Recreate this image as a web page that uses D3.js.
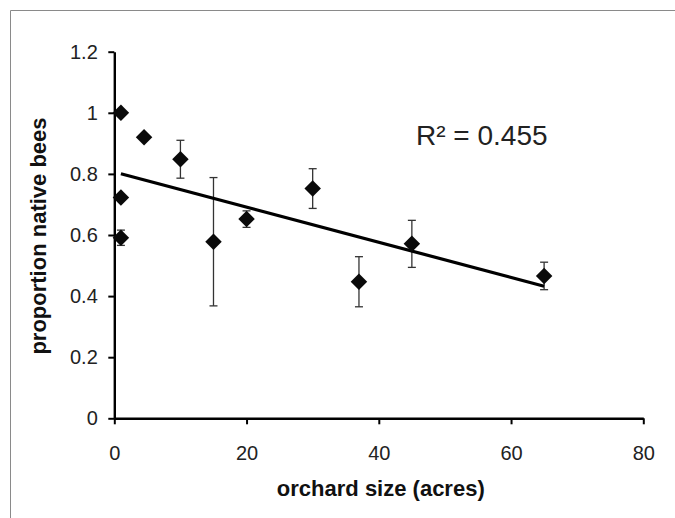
<!DOCTYPE html>
<html lang="en">
<head>
    <meta charset="UTF-8">
    <title>orchard size vs native bees</title>
    <script src="https://cdn.jsdelivr.net/npm/d3@7/dist/d3.min.js"></script>
    <style>
        body {
            margin: 0;
            background-color: #fff;
        }
        text {
            font-family: "Liberation Sans", Arial, sans-serif;
        }
    </style>
</head>
<body>
<div id="svgContainer"></div>

<script>
const width = 675;
const height = 518;
const margin = { top: 51.7, right: 31.7, bottom: 99.7, left: 114.3 };

// data
const orchardSize = [1, 4.5, 10, 1, 1, 15, 20, 30, 37, 45, 65];
const nativeProp = [1.0, 0.92, 0.848, 0.723, 0.591, 0.578, 0.652, 0.752, 0.447, 0.571, 0.466];
const errBar = [0, 0, 0.062, 0, 0.025, 0.21, 0.027, 0.065, 0.082, 0.077, 0.045];
const xTicks = [0, 20, 40, 60, 80];
const yTicks = [0, 0.2, 0.4, 0.6, 0.8, 1, 1.2];
const r2Label = 'R² = 0.455';

const data = orchardSize.map((x, i) => ({ x: x, y: nativeProp[i], e: errBar[i] }));

const svg = d3
    .select('#svgContainer')
    .append('svg')
    .attr('width', width)
    .attr('height', height);

// frame (only top and left edges show in the picture)
svg.append('path')
    .attr('d', `M10.5,${height}V10.5H${width}`)
    .attr('fill', 'none')
    .attr('stroke', '#8a8a8a')
    .attr('stroke-width', 1);

// scales
const x = d3.scaleLinear()
    .domain([0, 80])
    .range([margin.left, width - margin.right]);

const y = d3.scaleLinear()
    .domain([0, 1.2])
    .range([height - margin.bottom, margin.top]);

// axes
const xAxis = g => g
    .attr('transform', `translate(0,${height - margin.bottom})`)
    .call(d3.axisBottom(x).tickValues(xTicks).tickSize(6).tickPadding(22).tickSizeOuter(0).tickFormat(d3.format('d')))
    .call(g => g.select('.domain').attr('stroke-width', 2.4))
    .call(g => g.selectAll('.tick line').attr('stroke-width', 2))
    .call(g => g.selectAll('.tick text').attr('font-size', 20).attr('fill', '#222'));

const yAxis = g => g
    .attr('transform', `translate(${margin.left},0)`)
    .call(d3.axisLeft(y).tickValues(yTicks).tickSize(6).tickPadding(10.5).tickSizeOuter(0).tickFormat(d => d3.format('~g')(d)))
    .call(g => g.select('.domain').attr('stroke-width', 2.4))
    .call(g => g.selectAll('.tick line').attr('stroke-width', 2))
    .call(g => g.selectAll('.tick text').attr('font-size', 20).attr('fill', '#222'));

svg.append('g').call(xAxis);
svg.append('g').call(yAxis);

// axis titles
svg.append('text')
    .attr('x', (x(0) + x(80)) / 2 + 2)
    .attr('y', 496)
    .attr('text-anchor', 'middle')
    .attr('font-size', 22)
    .attr('font-weight', 'bold')
    .attr('fill', '#111')
    .text('orchard size (acres)');

svg.append('text')
    .attr('transform', `translate(46,${(y(0) + y(1.2)) / 2 + 1}) rotate(-90)`)
    .attr('text-anchor', 'middle')
    .attr('font-size', 22)
    .attr('font-weight', 'bold')
    .attr('fill', '#111')
    .text('proportion native bees');

// error bars
const bars = svg.append('g')
    .attr('stroke', '#333')
    .attr('stroke-width', 1.3)
    .selectAll('g')
    .data(data.filter(d => d.e > 0))
    .enter()
    .append('g');

bars.append('line')
    .attr('x1', d => x(d.x)).attr('x2', d => x(d.x))
    .attr('y1', d => y(d.y - d.e)).attr('y2', d => y(d.y + d.e));
bars.append('line')
    .attr('x1', d => x(d.x) - 4).attr('x2', d => x(d.x) + 4)
    .attr('y1', d => y(d.y + d.e)).attr('y2', d => y(d.y + d.e));
bars.append('line')
    .attr('x1', d => x(d.x) - 4).attr('x2', d => x(d.x) + 4)
    .attr('y1', d => y(d.y - d.e)).attr('y2', d => y(d.y - d.e));

// least squares trend line
const mx = d3.mean(data, d => d.x);
const my = d3.mean(data, d => d.y);
const slope = d3.sum(data, d => (d.x - mx) * (d.y - my)) / d3.sum(data, d => (d.x - mx) * (d.x - mx));
const icpt = my - slope * mx;
const trend = d3.extent(orchardSize).map(v => ({ x: v, y: icpt + slope * v }));

svg.append('path')
    .attr('d', d3.line().x(d => x(d.x)).y(d => y(d.y))(trend))
    .attr('fill', 'none')
    .attr('stroke', '#000')
    .attr('stroke-width', 3.2);

// diamonds
svg.append('g')
    .selectAll('path')
    .data(data)
    .enter()
    .append('path')
    .attr('d', d3.symbol(d3.symbolSquare, 136))
    .attr('transform', d => `translate(${x(d.x)},${y(d.y)}) rotate(45)`)
    .attr('fill', '#0a0a0a');

svg.append('text')
    .attr('x', 416)
    .attr('y', 145)
    .attr('font-size', 28)
    .attr('fill', '#222')
    .text(r2Label);
</script>
</body>
</html>
